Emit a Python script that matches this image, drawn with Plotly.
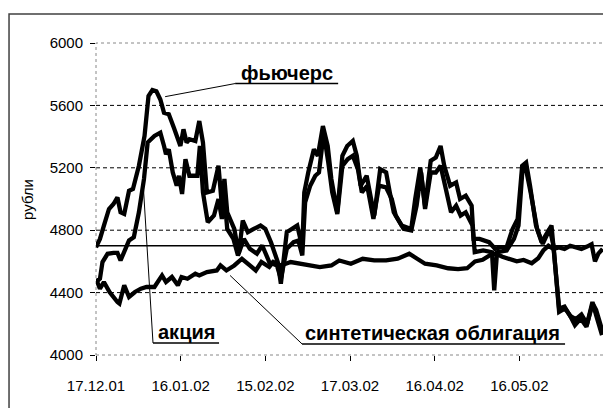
import pandas as pd
import plotly.graph_objects as go

# ---------------- data ----------------
START = pd.Timestamp("2001-12-17")
FORWARD_PRICE = 4700  # horizontal reference line

# days since 17.12.01 / value, rubles
fut_days = [0, 1.4, 2.8, 4.6, 6.2, 7.6, 8.7, 10, 11.7, 13.1,
            15.2, 17.2, 18.6, 20, 21.4, 22.8, 24.1, 25.8, 27.6, 29,
            29.9, 31, 32.1, 33.1, 35.2, 36.6, 37.9, 39.3, 41.4, 43.4,
            44.6, 45.5, 46.5, 49, 50.6, 52, 53.8, 55.9, 58.3, 60,
            62, 64.4, 65.5, 67.6, 69.4, 71.3, 73.1, 73.8, 75.2, 77.2,
            78.6, 80.4, 82.1, 83.4, 85.5, 87.3, 89, 91, 92.4, 93.8,
            95.9, 98.6, 100.7, 102.8, 104.1, 105.5, 108.3, 111.7, 113.1, 114.9,
            116.6, 118.6, 120.4, 122.1, 123.4, 125.5, 127.6, 129, 131, 133.1,
            133.8, 135.9, 139.3, 141.4, 143.4, 145.5, 147.6, 149.4, 151, 152.4,
            153.8, 155.9, 157.9, 160, 161.4, 162.1, 164.1, 166, 168, 170,
            172, 174, 176, 177.2, 179.5]
fut_vals = [4691, 4744, 4830, 4936, 4968, 5010, 4915, 4904, 5053, 5064,
            5213, 5404, 5660, 5698, 5691, 5638, 5553, 5543, 5457, 5383,
            5340, 5447, 5362, 5383, 5372, 5500, 5362, 5042, 5053, 5213,
            4957, 5128, 4915, 4808, 4649, 4862, 4787, 4808, 4830, 4808,
            4723, 4596, 4457, 4787, 4808, 4830, 4691, 5042, 5170, 5319,
            5277, 5468, 5340, 5128, 4915, 5277, 5340, 5372, 5277, 5085,
            5149, 4894, 5191, 5170, 5042, 4915, 4830, 4808, 5000, 5202,
            4957, 5245, 5266, 5340, 5213, 5085, 5106, 5000, 5021, 4957,
            4744, 4744, 4723, 4681, 4691, 4691, 4808, 4872, 5213, 5234,
            5085, 4830, 4723, 4787, 4830, 4691, 4298, 4310, 4250, 4230,
            4260, 4200, 4330, 4290, 4150]

stock_days = [0, 1.4, 2.3, 4.1, 6.2, 7.6, 8.7, 10, 11.7, 13.4,
              15.2, 17, 18.3, 20.7, 22.8, 24.1, 24.8, 25.8, 27.2, 28.6,
              29.4, 30.5, 31.7, 33.1, 35.9, 36.8, 37.9, 39.6, 41.8, 43.4,
              44.6, 45.5, 46.5, 48.7, 50.3, 52.4, 54.5, 57, 58.9, 61.4,
              64.1, 65.5, 67.6, 70, 71.7, 73.1, 74.1, 75.9, 77.7, 79,
              80.7, 82.3, 83.7, 85.5, 87.3, 89.2, 91, 92.8, 94.2, 96.1,
              98.3, 100.3, 102.8, 104.8, 106.2, 109, 111.7, 113.6, 115.2, 116.6,
              118.6, 120.4, 122.1, 123.7, 125.8, 127.6, 129.2, 131, 133.4, 134.2,
              137.2, 140.3, 141.1, 142.1, 145.5, 148.1, 149.7, 151.2, 152.6, 154,
              156.3, 158.3, 160.8, 162.1, 164.1, 166.2, 167.9, 169.7, 171.7, 173.8,
              175.9, 177.2, 179.3]
stock_vals = [4468, 4489, 4596, 4649, 4655, 4655, 4606, 4659, 4734, 4755,
              4915, 5128, 5362, 5404, 5425, 5340, 5287, 5319, 5170, 5085,
              5149, 5032, 5255, 5149, 5149, 5340, 5042, 4851, 4894, 5000,
              4872, 5021, 4808, 4744, 4638, 4744, 4681, 4649, 4702, 4596,
              4574, 4489, 4681, 4723, 4734, 4638, 4979, 5085, 5149, 5170,
              5425, 5234, 5042, 4904, 5213, 5255, 5277, 5191, 5042, 5085,
              4872, 5085, 5074, 5000, 4894, 4808, 4798, 4957, 5170, 4936,
              5170, 5170, 5213, 5085, 4915, 4957, 4894, 4915, 4830, 4659,
              4670, 4659, 4415, 4659, 4670, 4744, 4830, 5213, 5170, 5042,
              4808, 4712, 4808, 4702, 4276, 4298, 4255, 4191, 4234, 4181,
              4340, 4255, 4128]

bond_days = [0, 1.4, 2.8, 4.8, 7.6, 8.3, 10, 11.7, 13.8, 15.9,
             17.9, 20.7, 23.4, 24.8, 26.9, 29, 30.3, 32.4, 35.2, 36.6,
             39.3, 42.8, 44.1, 46.2, 49, 51.7, 54.5, 56.6, 58.6, 61.4,
             62.8, 65.5, 69, 72.4, 76.6, 79.3, 83.4, 86.2, 90.3, 94.5,
             98.6, 102.8, 106.9, 111, 113.8, 116.6, 120.7, 124.8, 128.3, 131.5,
             134.3, 137, 139.6, 141.5, 144, 146.1, 149.1, 151.5, 154.4, 156.7,
             158.5, 160.3, 162.1, 164, 166, 168, 170, 172, 174, 175.6,
             176.8, 178, 179.5]
bond_vals = [4489, 4425, 4468, 4404, 4340, 4330, 4447, 4372, 4404, 4425,
             4436, 4436, 4510, 4468, 4500, 4447, 4500, 4489, 4521, 4510,
             4532, 4542, 4574, 4542, 4574, 4617, 4574, 4542, 4596, 4564,
             4596, 4574, 4596, 4585, 4574, 4564, 4574, 4606, 4585, 4617,
             4606, 4606, 4617, 4649, 4617, 4585, 4574, 4556, 4550, 4556,
             4600, 4610, 4640, 4650, 4630, 4620, 4600, 4609, 4588, 4620,
             4670, 4700, 4680, 4690, 4680, 4700, 4690, 4680, 4695, 4710,
             4600, 4650, 4680]

tick_days = [0, 30, 60, 90, 120, 150, 180]
tick_labels = ["17.12.01", "16.01.02", "15.02.02", "17.03.02", "16.04.02", "16.05.02", ""]
y_ticks = [4000, 4400, 4800, 5200, 5600, 6000]
y_grid = [4400, 4800, 5200, 5600]

# text, underline from-day, to-day, underline value, text centre day, leader target day, value
labels = [
    ("фьючерс", 49.3, 85.8, 5740, 67.5, 24.5, 5656),
    ("акция", 20.2, 43.6, 4077, 32.2, 16.8, 5070),
    ("синтетическая облигация", 73.0, 166.2, 4071, 119.3, 47.5, 4510),
]

assert len(fut_days) == len(fut_vals)
assert len(stock_days) == len(stock_vals)
assert len(bond_days) == len(bond_vals)


def to_dates(days):
    return [START + pd.Timedelta(days=float(d)) for d in days]


FONT = "Liberation Sans, Arial, sans-serif"
fig = go.Figure()

line_style = dict(color="black", width=4.3)
fig.add_trace(go.Scatter(x=to_dates(bond_days), y=bond_vals, mode="lines",
                         line=line_style, name="синтетическая облигация"))
fig.add_trace(go.Scatter(x=to_dates(stock_days), y=stock_vals, mode="lines",
                         line=line_style, name="акция"))
fig.add_trace(go.Scatter(x=to_dates(fut_days), y=fut_vals, mode="lines",
                         line=line_style, name="фьючерс"))

# forward price line
fig.add_hline(y=FORWARD_PRICE, line=dict(color="black", width=1.6), layer="above")

# dashed grid
for v in y_grid:
    fig.add_hline(y=v, line=dict(color="black", width=1, dash="4px,3px"), layer="below")

# plot area border (dotted grey)
fig.add_shape(type="rect", xref="paper", yref="paper", x0=0, x1=1, y0=0, y1=1,
              line=dict(color="#888888", width=1, dash="dot"), layer="below")
# chart area border
fig.add_shape(type="rect", xref="paper", yref="paper", x0=-0.1712, x1=1.05, y0=-0.25, y1=1.0929,
              line=dict(color="#404040", width=1.5), layer="below")

# labels with underline and leader
for text, u0, u1, uv, cday, tday, tval in labels:
    d0 = START + pd.Timedelta(days=u0)
    d1 = START + pd.Timedelta(days=u1)
    dt = START + pd.Timedelta(days=tday)
    fig.add_shape(type="line", xref="x", yref="y", x0=d0, x1=d1, y0=uv, y1=uv,
                  line=dict(color="black", width=1.5))
    fig.add_shape(type="line", xref="x", yref="y", x0=d0, x1=dt, y0=uv, y1=tval,
                  line=dict(color="black", width=1))
    fig.add_annotation(x=START + pd.Timedelta(days=cday), y=uv, xref="x", yref="y",
                       text=text, showarrow=False, xanchor="center", yanchor="bottom",
                       yshift=-2,
                       font=dict(family=FONT, size=20, color="black", weight="bold"))

# y-axis title
fig.add_annotation(x=-0.136, y=0.5, xref="paper", yref="paper", text="рубли",
                   textangle=-90, showarrow=False, xanchor="center", yanchor="middle",
                   font=dict(family=FONT, size=15, color="black"))

# the page body adds an 8px offset, so the figure is 8px smaller on each axis
fig.update_layout(
    width=603, height=400,
    margin=dict(l=88, r=7, t=35, b=53, autoexpand=False),
    paper_bgcolor="white", plot_bgcolor="white",
    showlegend=False,
    font=dict(family=FONT, size=15, color="black"),
)
fig.update_xaxes(
    type="date", automargin=False,
    range=[START, START + pd.Timedelta(days=180)],
    tickvals=to_dates(tick_days), ticktext=tick_labels,
    ticks="outside", ticklen=5, tickcolor="black", tickwidth=1,
    showgrid=False, showline=False, zeroline=False,
    tickfont=dict(family=FONT, size=15, color="black"),
    ticklabelstandoff=12,
)
fig.update_yaxes(
    range=[4000, 6000], tickvals=y_ticks, tickformat="d", automargin=False,
    ticks="outside", ticklen=5, tickcolor="black", tickwidth=1,
    showgrid=False, showline=False, zeroline=False,
    tickfont=dict(family=FONT, size=15, color="black"),
    ticklabelstandoff=4,
)

fig.write_html("out.html")
